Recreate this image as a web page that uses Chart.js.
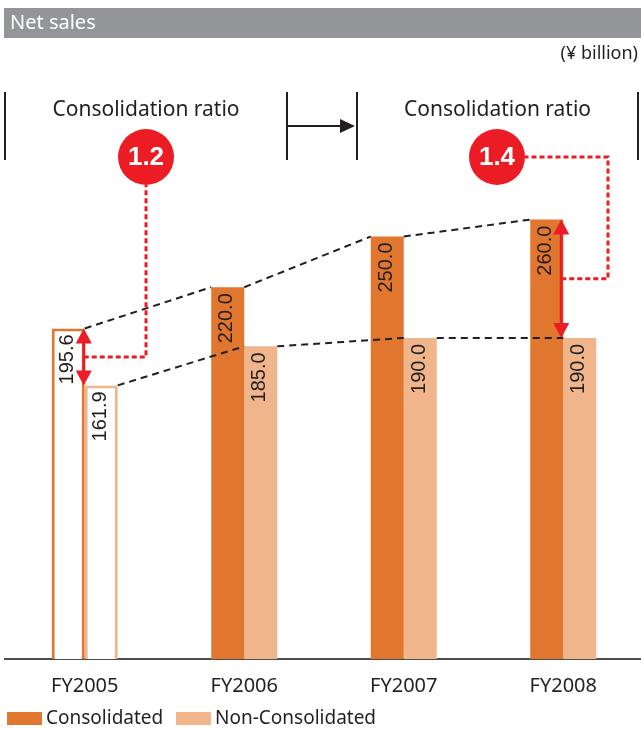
<!DOCTYPE html>
<html>
<head>
<meta charset="utf-8">
<script src="https://cdn.jsdelivr.net/npm/chart.js@4.4.1/dist/chart.umd.min.js"></script>
<style>
  html, body { margin: 0; padding: 0; background: #fff; overflow: hidden; }
  #wrap { width: 645px; height: 730px; }
</style>
</head>
<body>
<div id="wrap"><canvas id="salesChart" width="645" height="730"></canvas></div>
<script>
// Data
const categories = ["FY2005", "FY2006", "FY2007", "FY2008"];
const consolidated = [195.6, 220.0, 250.0, 260.0];
const nonConsolidated = [161.9, 185.0, 190.0, 190.0];
const ratioLabels = ["1.2", "1.4"];
const ratioYearIndex = [0, 3];
const seriesNames = ["Consolidated", "Non-Consolidated"];

// Colours
const DARK = "#E1772E";
const LIGHT = "#F0B58B";
const RED = "#EC1C24";
const INK = "#231F20";
const FONT = "'Noto Sans', 'Open Sans', sans-serif";

// Header, unit, panel separators
const headerPlugin = {
    id: "header",
    beforeDraw(chart) {
        const ctx = chart.ctx;
        ctx.save();
        ctx.fillStyle = "#939598";
        ctx.fillRect(4, 8, 641, 30);
        ctx.fillStyle = "#fff";
        ctx.font = "20px " + FONT;
        ctx.textBaseline = "middle";
        ctx.fillText("Net sales", 10, 23);

        ctx.fillStyle = INK;
        ctx.font = "18px " + FONT;
        ctx.textAlign = "right";
        ctx.fillText("(\u00A5 billion)", 638, 54);

        // panel separators
        const seps = [5, 287, 357, 638];
        ctx.strokeStyle = INK;
        ctx.lineWidth = 2;
        seps.forEach(x => {
            ctx.beginPath();
            ctx.moveTo(x, 92);
            ctx.lineTo(x, 160);
            ctx.stroke();
        });
        // arrow between panels
        ctx.beginPath();
        ctx.moveTo(287, 126);
        ctx.lineTo(342, 126);
        ctx.stroke();
        ctx.fillStyle = INK;
        ctx.beginPath();
        ctx.moveTo(340, 119);
        ctx.lineTo(355, 126);
        ctx.lineTo(340, 133);
        ctx.closePath();
        ctx.fill();

        // panel titles
        ctx.textAlign = "center";
        ctx.font = "21px " + FONT;
        ctx.fillText("Consolidation ratio", (seps[0] + seps[1]) / 2, 110);
        ctx.fillText("Consolidation ratio", (seps[2] + seps[3]) / 2, 110);
        ctx.restore();
    }
};

function bar(chart, ds, i) {
    return chart.getDatasetMeta(ds).data[i].getProps(["x", "y", "width", "base"], true);
}

function dashedLine(ctx, x1, y1, x2, y2) {
    ctx.beginPath();
    ctx.moveTo(x1, y1);
    ctx.lineTo(x2, y2);
    ctx.stroke();
}

function arrowHead(ctx, x, y, dir) {
    ctx.beginPath();
    ctx.moveTo(x, y);
    ctx.lineTo(x - 8, y + dir * 15);
    ctx.lineTo(x + 8, y + dir * 15);
    ctx.closePath();
    ctx.fill();
}

// Value labels, trend lines, ratio callouts
const overlayPlugin = {
    id: "overlay",
    afterDatasetsDraw(chart) {
        const ctx = chart.ctx;
        ctx.save();

        // rotated value labels
        ctx.fillStyle = INK;
        ctx.font = "20px 'Liberation Sans', Arial, sans-serif";
        ctx.textAlign = "right";
        ctx.textBaseline = "middle";
        [consolidated, nonConsolidated].forEach((vals, ds) => {
            vals.forEach((v, i) => {
                const b = bar(chart, ds, i);
                ctx.save();
                ctx.translate(b.x - 1, b.y + 6);
                ctx.rotate(-Math.PI / 2);
                ctx.fillText(v.toFixed(1), 0, 0);
                ctx.restore();
            });
        });

        // black dashed trend lines
        ctx.strokeStyle = INK;
        ctx.lineWidth = 2;
        ctx.setLineDash([7, 5]);
        for (let i = 0; i < categories.length - 1; i++) {
            const c1 = bar(chart, 0, i), c2 = bar(chart, 0, i + 1);
            dashedLine(ctx, c1.x + c1.width / 2, c1.y, c2.x - c2.width / 2, c2.y);
            const n1 = bar(chart, 1, i), n2 = bar(chart, 1, i + 1);
            dashedLine(ctx, n1.x + n1.width / 2, n1.y, n2.x - n2.width / 2, n2.y);
        }

        // ratio arrows and callouts
        const circles = [{x: 146, y: 157}, {x: 497, y: 157}];
        ratioYearIndex.forEach((idx, k) => {
            const c = bar(chart, 0, idx), n = bar(chart, 1, idx);
            const ax = c.x + c.width / 2 - (k === 0 ? 1 : 2);
            const mid = (c.y + n.y) / 2;
            ctx.setLineDash([]);
            ctx.strokeStyle = RED;
            ctx.fillStyle = RED;
            ctx.lineWidth = 3;
            dashedLine(ctx, ax, c.y + 12, ax, n.y - 12);
            arrowHead(ctx, ax, c.y, 1);
            arrowHead(ctx, ax, n.y, -1);

            ctx.setLineDash([5, 3]);
            ctx.beginPath();
            ctx.moveTo(ax, mid);
            const circ = circles[k];
            if (k === 0) {
                ctx.lineTo(circ.x, mid);
                ctx.lineTo(circ.x, circ.y + 28);
            } else {
                ctx.lineTo(608, mid);
                ctx.lineTo(608, circ.y);
                ctx.lineTo(circ.x + 28, circ.y);
            }
            ctx.stroke();

            ctx.setLineDash([]);
            ctx.beginPath();
            ctx.arc(circ.x, circ.y, 28, 0, Math.PI * 2);
            ctx.fill();
            ctx.fillStyle = "#fff";
            ctx.font = "bold 26px 'Liberation Sans', Arial, sans-serif";
            ctx.textAlign = "center";
            ctx.textBaseline = "middle";
            ctx.fillText(ratioLabels[k], circ.x, circ.y + 1);
        });
        ctx.restore();
    },
    afterDraw(chart) {
        // legend
        const ctx = chart.ctx;
        ctx.save();
        ctx.font = "19px " + FONT;
        ctx.textBaseline = "middle";
        ctx.fillStyle = DARK;
        ctx.fillRect(7, 712, 35, 13);
        ctx.fillStyle = LIGHT;
        ctx.fillRect(176, 712, 35, 13);
        ctx.fillStyle = INK;
        ctx.fillText(seriesNames[0], 46, 719);
        ctx.fillText(seriesNames[1], 215, 719);
        ctx.restore();
    }
};

new Chart(document.getElementById("salesChart"), {
    type: "bar",
    data: {
        labels: categories,
        datasets: [
            {
                label: seriesNames[0],
                data: consolidated,
                backgroundColor: ["#fff", DARK, DARK, DARK],
                borderColor: DARK,
                borderWidth: [3, 0, 0, 0],
                barPercentage: 1,
                categoryPercentage: 0.414
            },
            {
                label: seriesNames[1],
                data: nonConsolidated,
                backgroundColor: ["#fff", LIGHT, LIGHT, LIGHT],
                borderColor: LIGHT,
                borderWidth: [3, 0, 0, 0],
                barPercentage: 1,
                categoryPercentage: 0.414
            }
        ]
    },
    options: {
        responsive: false,
        animation: false,
        devicePixelRatio: 1,
        layout: { padding: { top: 152, left: 5, right: 2, bottom: 17 } },
        plugins: { legend: { display: false }, tooltip: { enabled: false } },
        scales: {
            x: {
                grid: { display: false, drawTicks: false },
                border: { display: true, color: "#4D4D4F", width: 2 },
                ticks: { color: INK, font: { family: FONT, size: 20 }, padding: 15 }
            },
            y: {
                display: false,
                min: 0,
                max: 300
            }
        }
    },
    plugins: [headerPlugin, overlayPlugin]
});
</script>
</body>
</html>
